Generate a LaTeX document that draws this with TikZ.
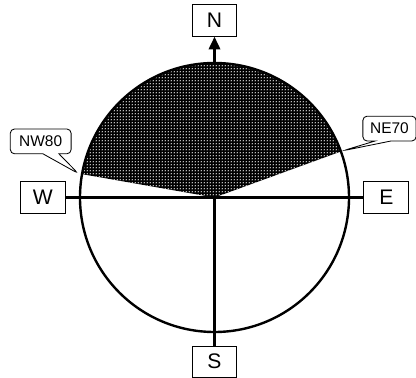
\documentclass[tikz,border=0pt]{standalone}
\usepackage{fontspec}
\setmainfont{Liberation Sans}
\usetikzlibrary{positioning}
\usetikzlibrary{arrows.meta}
\usetikzlibrary{patterns.meta}
\usetikzlibrary{shapes.callouts}

\tikzdeclarepattern{
  name=fielddots,
  type=uncolored,
  bounding box={(0pt,0pt) and (2.2pt,2.2pt)},
  tile size={(2.2pt,2.2pt)},
  code={\fill (1.1pt,1.1pt) circle (0.6pt);}
}

\begin{document}
\begin{tikzpicture}[
    every node/.style={font=\fontsize{15}{17}\selectfont},
    dir/.style={rectangle, draw, line width=0.7pt, minimum width=1.12cm, minimum height=0.78cm, inner sep=0pt},
    tag/.style={rectangle callout, draw, rounded corners=3pt, line width=0.6pt, font=\fontsize{11}{13}\selectfont, minimum height=0.62cm, inner sep=1pt, callout pointer width=0.4cm},
    ring/.style={circle, draw, line width=1.7pt, minimum size=6.725cm, inner sep=0pt},
    axisline/.style={line width=1.7pt}
]
\useasboundingbox (-5.3625,-4.5125) rectangle (5.0375,4.9375);

% Shaded part of the net
\coordinate (O) at (0,0);
\fill[black, postaction={pattern=fielddots, pattern color=white}] (O) -- (20:3.3625) arc[start angle=20, end angle=170, radius=3.3625] -- cycle;

% Circle and directions
\node[ring] (ring) at (O) {};
\node[dir, above=0.63cm of ring] (N) {N};
\node[dir, below=0.31cm of ring] (S) {S};
\node[dir, left=0.33cm of ring] (W) {W};
\node[dir, right=0.33cm of ring] (E) {E};

\draw[axisline] (W.east) -- (E.west);
\draw[axisline] (O) -- (S.north);
\draw[line width=2pt, -{Triangle[length=3.2mm, width=2.8mm]}] (ring.north) -- (N.south);

% Strike labels
\coordinate (tipW) at (170:3.46);
\coordinate (tipE) at (20:3.42);
\node[tag, minimum width=1.52cm, above=0.68cm of W, xshift=-0.05cm, callout absolute pointer={(tipW)}] (nw) {NW80};
\node[tag, minimum width=1.33cm, above=1cm of E, xshift=0.08cm, callout absolute pointer={(tipE)}] (ne) {NE70};

\end{tikzpicture}
\end{document}
